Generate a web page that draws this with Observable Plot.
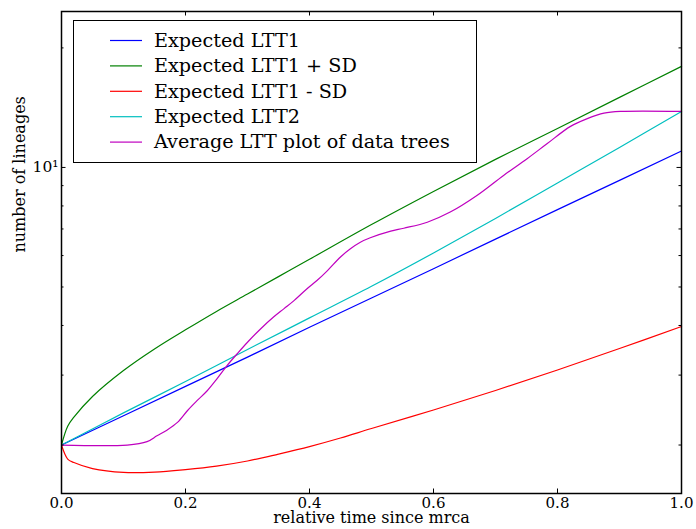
<!DOCTYPE html>
<html>
<head>
<meta charset="utf-8">
<script src="https://cdn.jsdelivr.net/npm/d3@7"></script>
<script src="https://cdn.jsdelivr.net/npm/@observablehq/plot@0.6"></script>
<style>
  html, body { margin: 0; padding: 0; background: #fff; }
</style>
</head>
<body>
<div id="chart"></div>
<script>
// ---- data ----
const seriesNames = ["Expected LTT1", "Expected LTT1 + SD", "Expected LTT1 - SD", "Expected LTT2", "Average LTT plot of data trees"];
const seriesColors = ["#0000ff", "#008000", "#ff0000", "#00bfbf", "#bf00bf"];

const timeLTT = [0, 0.1, 0.2, 0.3, 0.4, 0.5, 0.6, 0.7, 0.8, 0.9, 1.0];
const expectedLTT1 = [2.0, 2.37, 2.81, 3.33, 3.96, 4.69, 5.56, 6.60, 7.83, 9.28, 11.0];
const expectedLTT2 = [2.0, 2.41, 2.89, 3.48, 4.18, 5.02, 6.09, 7.44, 9.14, 11.23, 13.84];

const timePlus = [0, 0.01, 0.02, 0.05, 0.1, 0.15, 0.2, 0.25, 0.3, 0.35, 0.4, 0.5, 0.6, 0.7, 0.8, 0.9, 1.0];
const expectedPlusSD = [2.0, 2.23, 2.35, 2.65, 3.08, 3.49, 3.90, 4.34, 4.80, 5.31, 5.87, 7.18, 8.70, 10.48, 12.54, 15.01, 17.97];

const timeMinus = [0, 0.01, 0.02, 0.05, 0.1, 0.15, 0.2, 0.25, 0.3, 0.35, 0.4, 0.45, 0.5, 0.6, 0.7, 0.8, 0.9, 1.0];
const expectedMinusSD = [2.0, 1.844, 1.807, 1.745, 1.707, 1.710, 1.735, 1.770, 1.823, 1.898, 1.982, 2.083, 2.201, 2.450, 2.744, 3.090, 3.500, 3.977];

const timeAvg = [0, 0.106, 0.138, 0.154, 0.170, 0.187, 0.203, 0.219, 0.235, 0.251, 0.267, 0.283, 0.300, 0.321, 0.342, 0.359, 0.375, 0.396, 0.412, 0.429, 0.450, 0.466, 0.482, 0.498, 0.531, 0.552, 0.590, 0.627, 0.670, 0.713, 0.751, 0.783, 0.821, 0.848, 0.875, 0.902, 1.0];
const averageLTT = [2.0, 2.0, 2.04, 2.11, 2.18, 2.28, 2.44, 2.59, 2.74, 2.94, 3.17, 3.39, 3.63, 3.92, 4.20, 4.41, 4.62, 4.95, 5.19, 5.50, 5.95, 6.24, 6.48, 6.65, 6.91, 7.03, 7.28, 7.72, 8.50, 9.55, 10.52, 11.47, 12.69, 13.27, 13.70, 13.84, 13.84];

const xTicks = [0, 0.2, 0.4, 0.6, 0.8, 1.0];
const yMajorTicks = [10];
const yMinorTicks = [2, 3, 4, 5, 6, 7, 8, 9, 20];
const xLabel = "relative time since mrca";
const yLabel = "number of lineages";

// ---- build tables ----
const pairs = (ts, vs, name) => ts.map((t, i) => ({t, v: vs[i], name}));
const lineData = [
  pairs(timeLTT, expectedLTT1, seriesNames[0]),
  pairs(timePlus, expectedPlusSD, seriesNames[1]),
  pairs(timeMinus, expectedMinusSD, seriesNames[2]),
  pairs(timeLTT, expectedLTT2, seriesNames[3]),
  pairs(timeAvg, averageLTT, seriesNames[4])
];
const curves = ["linear", "catmull-rom", "catmull-rom", "catmull-rom", "catmull-rom"];

// ---- layout ----
const width = 696, height = 529;
const mL = 61, mR = 15, mT = 11, mB = 36;
const innerW = width - mL - mR, innerH = height - mT - mB;
const majorLen = 4.5, minorLen = 2.5;
const font = "'DejaVu Serif', serif";

const svg = Plot.plot({
  width, height,
  marginLeft: mL, marginRight: mR, marginTop: mT, marginBottom: mB,
  style: {fontFamily: font, fontSize: "15.5px", background: "#fff", color: "#000"},
  x: {domain: [0, 1]},
  y: {type: "log", domain: [1.51, 24.7]},
  marks: [
    ...lineData.map((d, i) => Plot.line(d, {x: "t", y: "v", stroke: seriesColors[i], strokeWidth: 1.2, curve: curves[i]})),
    // inward ticks (matplotlib style) on all four sides
    Plot.tickX(xTicks, {x: d => d, insetTop: innerH - majorLen, stroke: "#000", strokeWidth: 1}),
    Plot.tickX(xTicks, {x: d => d, insetBottom: innerH - majorLen, stroke: "#000", strokeWidth: 1}),
    Plot.tickY(yMajorTicks, {y: d => d, insetRight: innerW - majorLen, stroke: "#000", strokeWidth: 1}),
    Plot.tickY(yMajorTicks, {y: d => d, insetLeft: innerW - majorLen, stroke: "#000", strokeWidth: 1}),
    Plot.tickY(yMinorTicks, {y: d => d, insetRight: innerW - minorLen, stroke: "#000", strokeWidth: 1}),
    Plot.tickY(yMinorTicks, {y: d => d, insetLeft: innerW - minorLen, stroke: "#000", strokeWidth: 1}),
    Plot.axisX({ticks: xTicks, tickSize: 0, tickPadding: 3.5, tickFormat: d3.format(".1f"), label: null, fontSize: 15}),
    Plot.axisY({ticks: yMajorTicks, tickSize: 0, tickPadding: 3, tickFormat: () => "10\u00b9", label: null, fontSize: 15.5}),
    Plot.text([xLabel], {text: d => d, frameAnchor: "bottom", dy: 29.5, fontSize: 16, fill: "#000"}),
    Plot.text([yLabel], {text: d => d, frameAnchor: "left", dx: -42, rotate: -90, fontSize: 16, fill: "#000"}),
    Plot.frame({stroke: "#000", strokeWidth: 1.5})
  ]
});

// ---- legend (matplotlib-style box, upper left) ----
const lg = d3.select(svg).append("g").attr("transform", "translate(73.5,20.5)");
lg.append("rect").attr("width", 403).attr("height", 142)
  .attr("fill", "#fff").attr("stroke", "#000").attr("stroke-width", 1);
seriesNames.forEach((name, i) => {
  const cy = 20 + i * 25.4;
  lg.append("line").attr("x1", 36.5).attr("x2", 68.5).attr("y1", cy).attr("y2", cy)
    .attr("stroke", seriesColors[i]).attr("stroke-width", 1.2);
  lg.append("text").attr("x", 80.5).attr("y", cy).attr("dy", "0.33em")
    .attr("text-anchor", "start")
    .attr("font-family", font).attr("font-size", 19.2).attr("fill", "#000").text(name);
});

document.getElementById("chart").appendChild(svg);
</script>
</body>
</html>
